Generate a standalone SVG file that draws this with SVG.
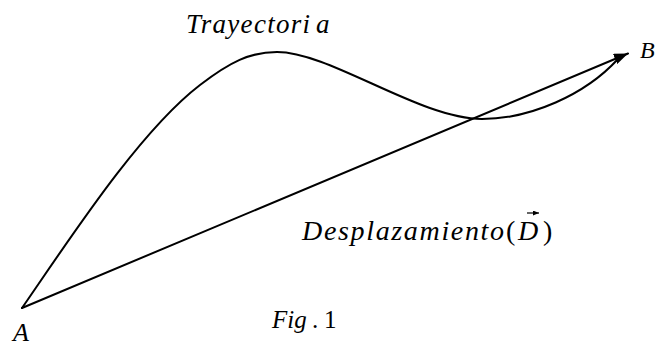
<svg xmlns="http://www.w3.org/2000/svg" width="655" height="347" viewBox="0 0 655 347">
<style>
.ln{fill:none;stroke:#000;stroke-width:2;stroke-linecap:round;stroke-linejoin:round}
text{font-family:'Liberation Serif','Times New Roman',Times,serif;fill:#000}
.t{font-style:italic}
.r{font-style:normal}
</style>
<defs>
<marker id="ah" markerUnits="userSpaceOnUse" viewBox="0 0 14 11" refX="14" refY="5.5" markerWidth="14" markerHeight="11" orient="auto">
<path d="M0,0 L14,5.5 L0,11 Z" fill="#000"/>
</marker>
<marker id="ahs" markerUnits="userSpaceOnUse" viewBox="0 0 6 5" refX="6" refY="2.5" markerWidth="6" markerHeight="5" orient="auto">
<path d="M0,0 L6,2.5 L0,5 Z" fill="#000"/>
</marker>
</defs>
<g id="connectors">
<path id="trayectoria" class="ln" d="M22,308 C72,235.5 140,131 200,85 C230,62 250,52 277,52 C330,52 420,119 482,119 C530,119 585,95 618,59"/>
<line id="desplazamiento" class="ln" x1="22" y1="308" x2="628" y2="53.5" marker-end="url(#ah)"/>
</g>
<g id="node-A"><text class="t" x="13" y="341" font-size="26">A</text></g>
<g id="node-B"><text class="t" x="640" y="58" font-size="24">B</text></g>
<g id="label-trayectoria"><text class="t" x="186" y="33" font-size="27" textLength="124" lengthAdjust="spacing">Trayectori</text><text class="t" x="316" y="33" font-size="27">a</text></g>
<g id="label-desplazamiento">
<text class="t" x="302" y="240" font-size="28" textLength="202" lengthAdjust="spacing">Desplazamiento</text>
<text class="r" x="506" y="240" font-size="28">(</text>
<text class="t" x="518" y="240" font-size="28">D</text>
<text class="r" x="543" y="240" font-size="28">)</text>
<line x1="527" y1="213" x2="539" y2="213" stroke="#000" stroke-width="1.2" marker-end="url(#ahs)"/>
</g>
<g id="label-fig">
<text class="t" x="272" y="328" font-size="25">Fig</text>
<text class="r" x="312" y="328" font-size="25">.</text>
<text class="r" x="324" y="328" font-size="25">1</text>
</g>
</svg>
